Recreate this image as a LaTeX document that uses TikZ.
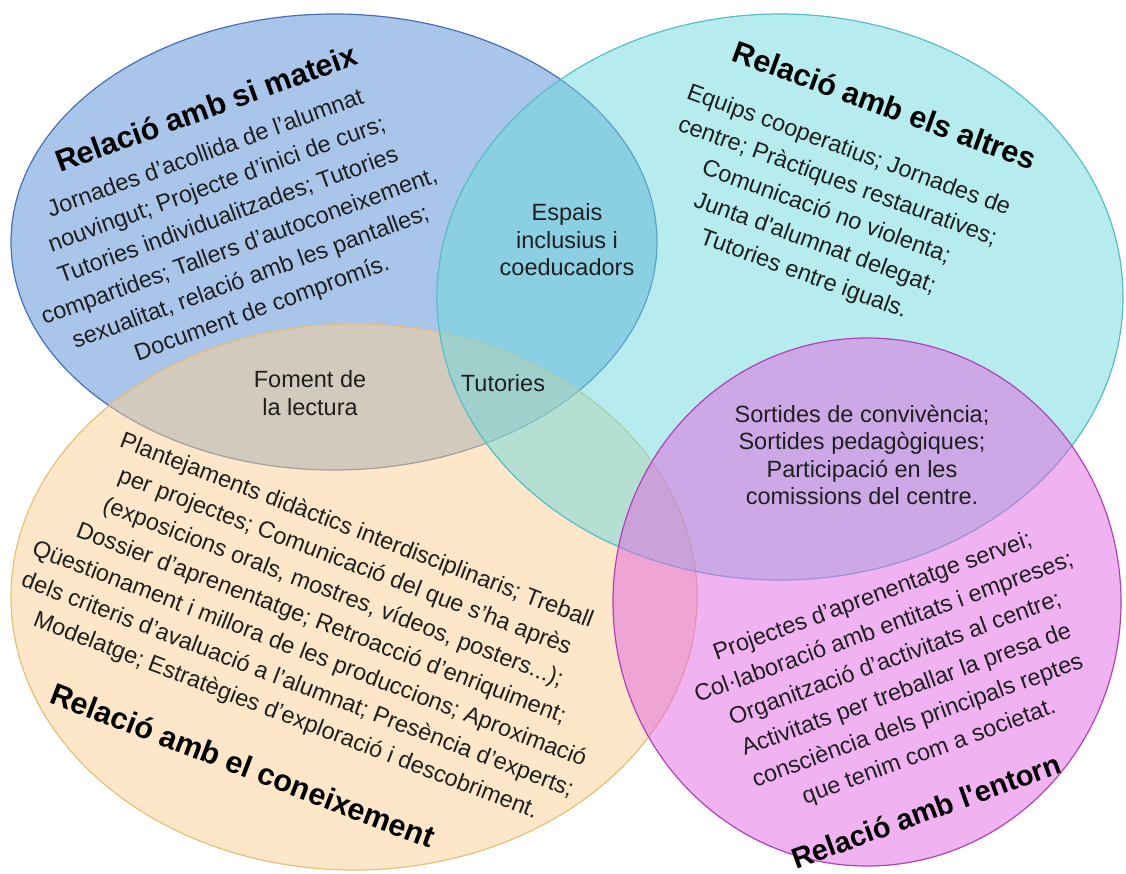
\documentclass[tikz,border=0pt]{standalone}
\usepackage{fontspec}
\setmainfont{Liberation Sans}
\definecolor{siFill}{RGB}{83,139,211}
\definecolor{siLine}{RGB}{70,112,180}
\definecolor{conFill}{RGB}{251,207,145}
\definecolor{conLine}{RGB}{232,190,120}
\definecolor{altFill}{RGB}{111,217,221}
\definecolor{altLine}{RGB}{86,190,198}
\definecolor{entFill}{RGB}{225,101,225}
\definecolor{entLine}{RGB}{176,66,184}

\begin{document}
\begin{tikzpicture}[x=1pt, y=-1pt,
    set/.style={fill opacity=0.5, line width=1.2pt},
    txt/.style={align=center, text=black!88, font=\fontsize{23.5}{33}\selectfont},
    small/.style={align=center, text=black!88, font=\fontsize{23.5}{27.5}\selectfont},
    head/.style={align=center, text=black, font=\bfseries\fontsize{30.5}{36}\selectfont}]
    \useasboundingbox (0,0) rectangle (1126,874);
    \draw[set, fill=siFill, draw=siLine] (334,242) ellipse [x radius=323, y radius=228];
    \draw[set, fill=conFill, draw=conLine] (354,597) ellipse [x radius=343, y radius=273];
    \draw[set, fill=altFill, draw=altLine] (780,297) ellipse [x radius=343, y radius=283];
    \draw[set, fill=entFill, draw=entLine] (867,602) ellipse [x radius=254, y radius=264];

    \node[head, rotate=20] (siHead) at (206,108) {Relació amb si mateix};
    \node[txt, rotate=20] (siText) at (234,232) {Jornades d’acollida de l’alumnat\\
        nouvingut; Projecte d’inici de curs;\\ Tutories individualitzades; Tutories\\
        compartides; Tallers d’autoconeixement,\\ sexualitat, relació amb les pantalles;\\
        Document de compromís.};
    \node[head, rotate=-20] (altHead) at (885,105) {Relació amb els altres};
    \node[txt, rotate=-20] (altText) at (826,213) {Equips cooperatius; Jornades de\\
        centre; Pràctiques restauratives;\\ Comunicació no violenta;\\
        Junta d\textquotesingle alumnat delegat;\\ Tutories entre iguals.};
    \node[txt, rotate=-21] (conText) at (321,624) {Plantejaments didàctics interdisciplinaris; Treball\\
        per projectes; Comunicació del que s’ha après\\ (exposicions orals, mostres, vídeos, posters...);\\
        Dossier d’aprenentatge; Retroacció d’enriquiment;\\ Qüestionament i millora de les produccions; Aproximació\\
        dels criteris d’avaluació a l’alumnat; Presència d’experts;\\ Modelatge; Estratègies d’exploració i descobriment.};
    \node[head, rotate=-21] (conHead) at (243,765) {Relació amb el coneixement};
    \node[txt, rotate=20] (entText) at (901,675) {Projectes d’aprenentatge servei;\\
        Col·laboració amb entitats i empreses;\\ Organització d’activitats al centre;\\
        Activitats per treballar la presa de\\ consciència dels principals reptes\\ que tenim com a societat.};
    \node[head, rotate=20, font=\bfseries\fontsize{29}{34}\selectfont] (entHead) at (926,811) {Relació amb l\textquotesingle entorn};

    \node[small] (espais) at (567,240) {Espais\\ inclusius i\\ coeducadors};
    \node[small] (foment) at (310,393) {Foment de\\ la lectura};
    \node[small] (tutories) at (503,383) {Tutories};
    \node[small] (sortides) at (862,455) {Sortides de convivència;\\ Sortides pedagògiques;\\
        Participació en les\\ comissions del centre.};
\end{tikzpicture}
\end{document}
